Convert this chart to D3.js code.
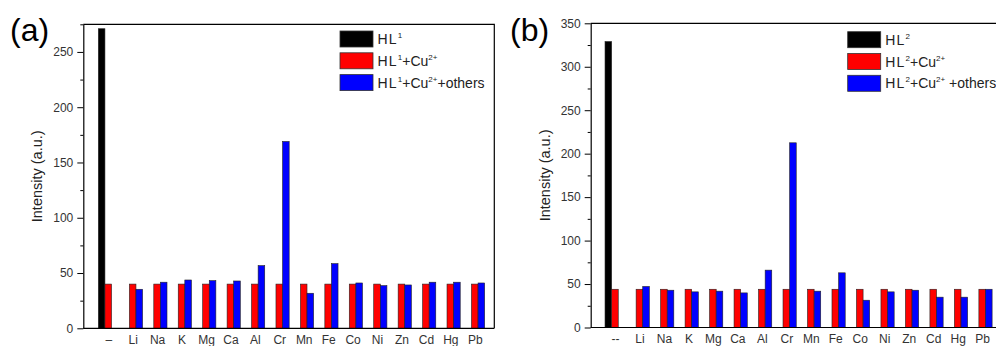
<!DOCTYPE html>
<html>
<head>
<meta charset="utf-8">
<script src="https://cdn.jsdelivr.net/npm/d3@7"></script>
<style>
  body { margin: 0; background: #fff; }
  svg { display: block; font-family: Arial, "Liberation Sans", sans-serif; }
</style>
</head>
<body>
<svg id="chart" width="996" height="346"></svg>
<script>
// ---------- data ----------
const categoriesA = ["–", "Li", "Na", "K", "Mg", "Ca", "Al", "Cr", "Mn", "Fe", "Co", "Ni", "Zn", "Cd", "Hg", "Pb"];
const categoriesB = ["--", "Li", "Na", "K", "Mg", "Ca", "Al", "Cr", "Mn", "Fe", "Co", "Ni", "Zn", "Cd", "Hg", "Pb"];

const hl1 =          [271, null, null, null, null, null, null, null, null, null, null, null, null, null, null, null];
const hl1Cu =        [40, 40, 40, 40, 40, 40, 40, 40, 40, 40, 40, 40, 40, 40, 40, 40];
const hl1CuOthers =  [null, 35.3, 41.7, 43.7, 43.1, 42.8, 56.7, 169, 31.7, 58.5, 41, 38.6, 39.2, 41.7, 41.7, 41];

const hl2 =          [329, null, null, null, null, null, null, null, null, null, null, null, null, null, null, null];
const hl2Cu =        [44, 44, 44, 44, 44, 44, 44, 44, 44, 44, 44, 44, 44, 44, 44, 44];
const hl2CuOthers =  [null, 47.2, 42.9, 41, 41.8, 39.8, 66, 212.5, 41.8, 62.9, 31.4, 41, 42.9, 34.9, 34.9, 44];

const yTicksA = [0, 50, 100, 150, 200, 250];
const yTicksB = [0, 50, 100, 150, 200, 250, 300, 350];

const seriesColors = ["#000000", "#ff0000", "#0000ff"];

// ---------- drawing ----------
const svg = d3.select("#chart");

function legendLabel(textSel, n, kind) {
  textSel.append("tspan").text("HL").attr("letter-spacing", "1.2");
  textSel.append("tspan").text(n).attr("font-size", 8).attr("dy", -6);
  if (kind >= 1) {
    textSel.append("tspan").text("+Cu").attr("dy", 6);
    textSel.append("tspan").text("2+").attr("font-size", 8).attr("dy", -6);
  }
  if (kind >= 2) {
    textSel.append("tspan").text(n === "2" ? " +others" : "+others").attr("dy", 6);
  }
}

function panel(o) {
  const g = svg.append("g");
  const x = d3.scaleLinear().domain(o.xDomain).range([o.left, o.right]);
  const y = d3.scaleLinear().domain(o.yDomain).range([o.bottom, o.top]);
  const step = x(1) - x(0);
  const w = step * 0.27;

  // bars
  const series = [o.black, o.red, o.blue];
  series.forEach((vals, s) => {
    g.append("g").selectAll("rect")
      .data(vals.map((v, i) => ({ v, i })).filter(d => d.v !== null))
      .join("rect")
      .attr("x", d => x(d.i) + (s - 1.5) * w)
      .attr("width", w)
      .attr("y", d => y(d.v))
      .attr("height", d => y(0) - y(d.v))
      .attr("fill", seriesColors[s])
      .attr("stroke", "#222")
      .attr("stroke-width", 0.6);
  });

  // frame (top & right)
  g.append("path")
    .attr("d", `M${o.left},${o.top}H${o.right}V${o.bottom}`)
    .attr("fill", "none").attr("stroke", "#000").attr("stroke-width", 1.2);

  // y axis with minor ticks
  const minor = [];
  for (let i = 0; i < o.yTicks.length - 1; i++) minor.push((o.yTicks[i] + o.yTicks[i + 1]) / 2);
  if (o.yDomain[1] > o.yTicks[o.yTicks.length - 1] + 25 - 1e-6) minor.push(o.yTicks[o.yTicks.length - 1] + 25);
  const yMinor = d3.axisLeft(y).tickValues(minor).tickSize(3).tickFormat("");
  g.append("g").attr("transform", `translate(${o.left},0)`).call(yMinor)
    .call(a => a.select(".domain").remove())
    .call(a => a.selectAll("line").attr("stroke", "#000").attr("stroke-width", 1));
  const yAxis = d3.axisLeft(y).tickValues(o.yTicks).tickSize(6).tickPadding(4).tickSizeOuter(0);
  g.append("g").attr("transform", `translate(${o.left},0)`).call(yAxis)
    .call(a => a.select(".domain").attr("stroke", "#000").attr("stroke-width", 1.2))
    .call(a => a.selectAll("line").attr("stroke", "#000").attr("stroke-width", 1))
    .call(a => a.selectAll("text").attr("font-size", 12).attr("fill", "#333")
      .attr("font-family", "Arial, 'Liberation Sans', sans-serif"));

  // x axis (no ticks)
  const xAxis = d3.axisBottom(x).tickValues(d3.range(o.cats.length))
    .tickFormat(i => o.cats[i]).tickSize(0).tickPadding(7);
  g.append("g").attr("transform", `translate(0,${o.bottom})`).call(xAxis)
    .call(a => a.select(".domain").attr("stroke", "#000").attr("stroke-width", 1.2)
      .attr("d", `M${o.left},0H${o.right}`))
    .call(a => a.selectAll("text").attr("font-size", 12).attr("fill", "#333")
      .attr("font-family", "Arial, 'Liberation Sans', sans-serif"));

  // y title
  g.append("text")
    .attr("transform", `translate(${o.yTitleX},${(o.top + o.bottom) / 2 + 0}) rotate(-90)`)
    .attr("text-anchor", "middle")
    .attr("font-size", 14.5).attr("fill", "#222")
    .text("Intensity (a.u.)");

  // panel label
  g.append("text").attr("x", o.labelX).attr("y", 41).attr("font-size", 32).attr("fill", "#000")
    .text(o.label);

  // legend
  const lg = g.append("g").attr("transform", `translate(${o.legX},${o.legY})`);
  [0, 1, 2].forEach(k => {
    const row = lg.append("g").attr("transform", `translate(0,${k * 21.8})`);
    row.append("rect").attr("width", 33).attr("height", 16)
      .attr("fill", seriesColors[k]).attr("stroke", "#333").attr("stroke-width", 0.8);
    const t = row.append("text").attr("x", 37.5).attr("y", 13).attr("font-size", 14)
      .attr("fill", "#222");
    legendLabel(t, o.n, k);
  });
}

panel({
  cats: categoriesA, black: hl1, red: hl1Cu, blue: hl1CuOthers,
  xDomain: [-1.02, 15.8], left: 83.3, right: 494.3,
  yDomain: [0, 275], yTicks: yTicksA, top: 24.3, bottom: 328.3,
  yTitleX: 42, label: "(a)", labelX: 10, legX: 340, legY: 31, n: "1"
});

panel({
  cats: categoriesB, black: hl2, red: hl2Cu, blue: hl2CuOthers,
  xDomain: [-0.99, 15.85], left: 590.7, right: 1003,
  yDomain: [0, 350], yTicks: yTicksB, top: 23.3, bottom: 327.5,
  yTitleX: 549.5, label: "(b)", labelX: 510, legX: 847.7, legY: 31.7, n: "2"
});
</script>
</body>
</html>
